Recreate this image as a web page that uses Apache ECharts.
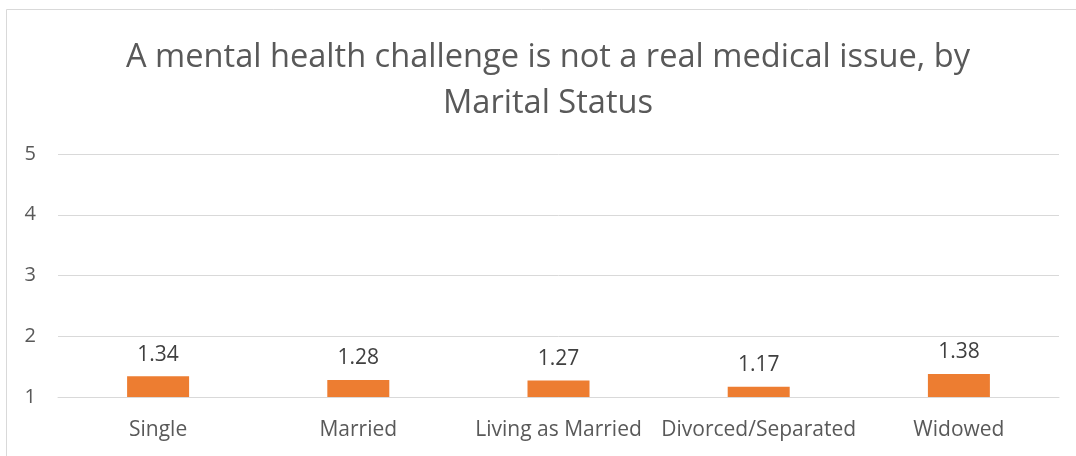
<!DOCTYPE html>
<html>
<head>
<meta charset="utf-8">
<script src="https://cdn.jsdelivr.net/npm/echarts@6/dist/echarts.min.js"></script>
<style>
  html, body { margin: 0; padding: 0; background: #fff; }
  #chart { width: 1076px; height: 456px; }
</style>
</head>
<body>
<div id="chart"></div>
<script>
// data
const categories = ['Single', 'Married', 'Living as Married', 'Divorced/Separated', 'Widowed']
const values = [1.34, 1.28, 1.27, 1.17, 1.38]
const titleText = 'A mental health challenge is not a real medical issue, by\nMarital Status'

const chart = echarts.init(document.getElementById('chart'))

const option = {
  animation: false,
  backgroundColor: '#fff',
  textStyle: { fontFamily: 'Open Sans' },
  graphic: [
    {
      // thin frame around the chart area
      type: 'polyline',
      shape: { points: [[6.5, 456], [6.5, 9.5], [1076, 9.5]] },
      style: { stroke: '#d9d9d9', lineWidth: 1, fill: null },
    },
  ],
  title: {
    text: titleText,
    left: 543,
    textAlign: 'center',
    top: 30,
    textStyle: {
      fontFamily: 'Open Sans',
      fontSize: 32.6,
      fontWeight: 'normal',
      color: '#595959',
      lineHeight: 46,
    },
  },
  grid: {
    left: 58,
    right: 17,
    top: 154,
    bottom: 59,
    containLabel: false,
  },
  xAxis: {
    type: 'category',
    data: categories,
    axisLine: { lineStyle: { color: '#d9d9d9' } },
    axisTick: { show: false },
    axisLabel: {
      color: '#595959',
      fontSize: 21,
      margin: 23,
      interval: 0,
    },
  },
  yAxis: {
    type: 'value',
    min: 1,
    max: 5,
    interval: 1,
    axisLine: { show: false },
    axisTick: { show: false },
    axisLabel: { color: '#595959', fontSize: 20, margin: 22 },
    splitLine: { lineStyle: { color: '#d9d9d9', width: 1 } },
  },
  series: [
    {
      type: 'bar',
      data: values,
      barWidth: 62,
      itemStyle: { color: '#ed7d31' },
      label: {
        show: true,
        position: 'top',
        distance: 11,
        color: '#404040',
        fontSize: 21,
        formatter: (p) => p.value.toFixed(2),
      },
    },
  ],
}

chart.setOption(option)
</script>
</body>
</html>
